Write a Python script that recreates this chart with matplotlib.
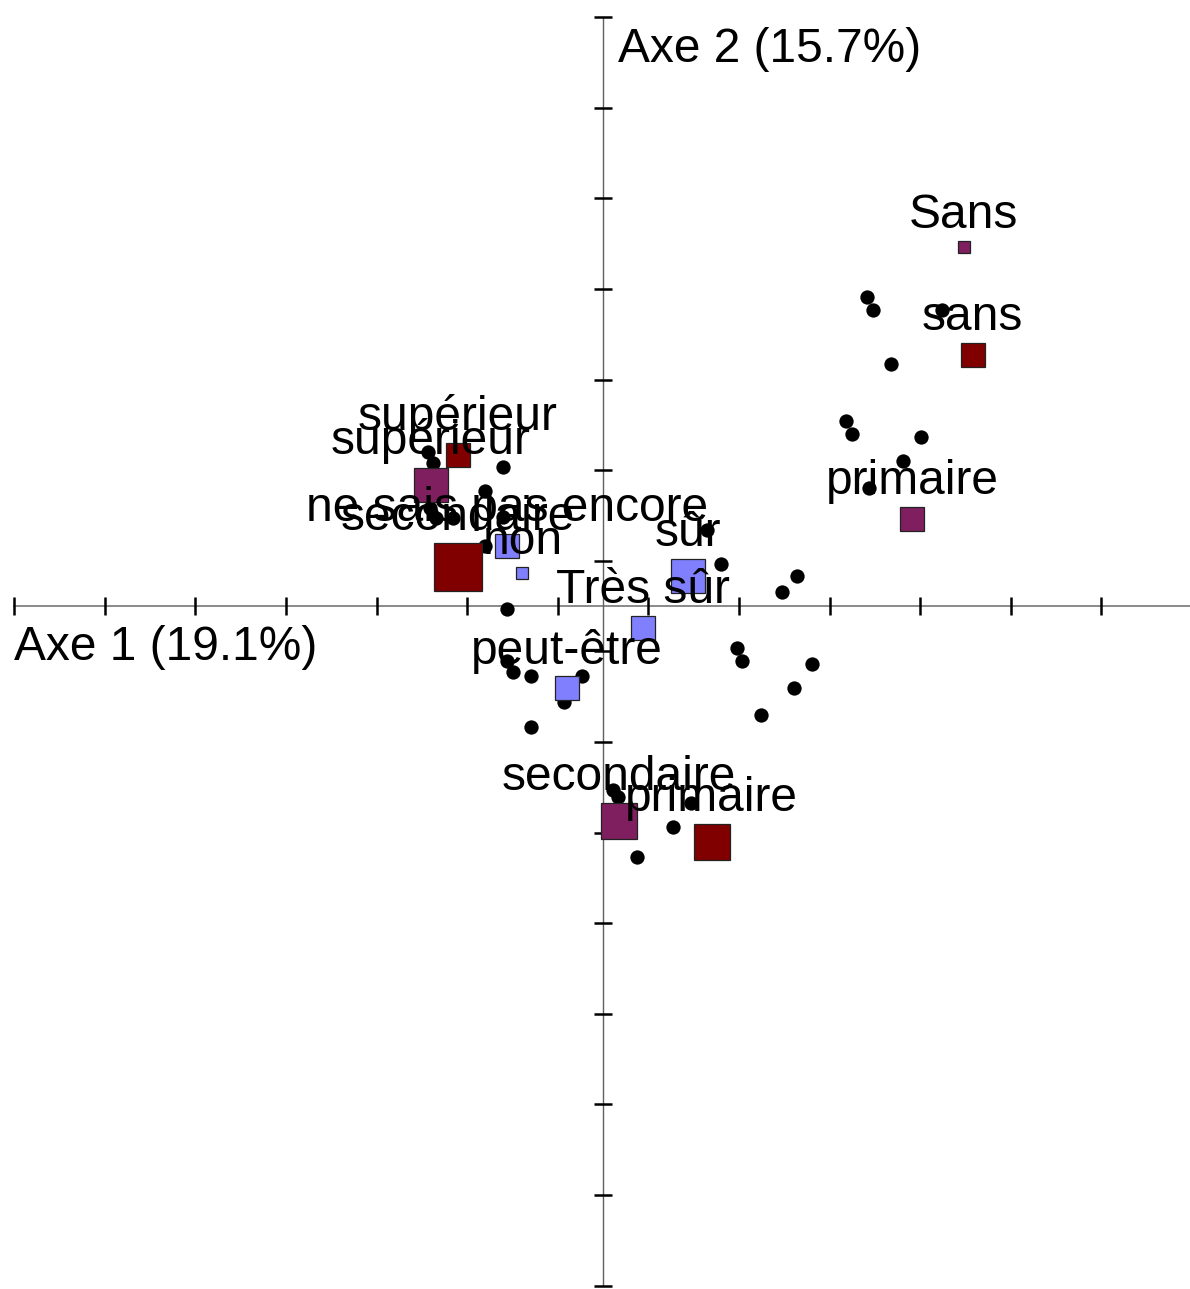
import numpy as np
import matplotlib
matplotlib.use("Agg")
import matplotlib.pyplot as plt

plt.rcParams["font.family"] = ["Liberation Sans", "DejaVu Sans"]

# individus (nuage de points)
ind_x = [0.291, 0.298, 0.318, 0.374, 0.268, 0.275, 0.351, 0.331, 0.294,
         -0.193, -0.188, -0.110, -0.130, -0.191, -0.184, -0.166, -0.110, -0.130,
         0.115, 0.130, 0.214, 0.198, 0.148, 0.153, 0.231, 0.211, 0.174,
         -0.106, -0.106, -0.099, -0.079, -0.023, -0.043, -0.079,
         0.011, 0.017, 0.097, 0.077, 0.038]
ind_y = [0.341, 0.327, 0.267, 0.327, 0.204, 0.190, 0.187, 0.160, 0.130,
         0.170, 0.158, 0.153, 0.127, 0.108, 0.097, 0.097, 0.098, 0.066,
         0.084, 0.046, 0.033, 0.015, -0.046, -0.061, -0.064, -0.091, -0.120,
         -0.003, -0.061, -0.073, -0.077, -0.077, -0.106, -0.134,
         -0.203, -0.211, -0.217, -0.244, -0.277]

# modalites : variable 1 (rouge fonce)
v1_labels = ["supérieur", "secondaire", "sans", "primaire"]
v1_x = [-0.160, -0.160, 0.408, 0.120]
v1_y = [0.167, 0.043, 0.277, -0.260]
v1_poids = [4.0, 16.0, 4.0, 9.0]

# variable 2 (violet)
v2_labels = ["supérieur", "secondaire", "primaire", "Sans"]
v2_x = [-0.190, 0.018, 0.341, 0.398]
v2_y = [0.134, -0.237, 0.096, 0.396]
v2_poids = [8.5, 9.0, 4.0, 1.0]

# variable 3 (bleu)
v3_labels = ["ne sais pas encore", "non", "Très sûr", "peut-être", "sûr"]
v3_x = [-0.106, -0.089, 0.044, -0.040, 0.094]
v3_y = [0.066, 0.036, -0.024, -0.091, 0.033]
v3_poids = [4.0, 1.0, 3.7, 3.7, 8.5]

axe1_label = "Axe 1 (19.1%)"
axe2_label = "Axe 2 (15.7%)"

px = 1 / 906  # one pixel in data units
fig = plt.figure(figsize=(11.9, 12.89), dpi=100)
ax = fig.add_axes([0, 0, 1, 1])
ax.set_xlim(-603 * px, 587 * px)
ax.set_ylim(-683 * px, 606 * px)
ax.axis("off")

#axes lines
ax.plot([-0.65, 0.66], [0, 0], color="#808080", lw=1.3, zorder=1)
ax.plot([0, 0], [-0.75, 0.65], color="#606060", lw=1.0, zorder=1)

#tick marks
xt = -0.65 + 0.1 * np.arange(13)
yt = -0.75 + 0.1 * np.arange(15)
ax.vlines(xt, -9 * px, 9 * px, color="black", lw=1.8, zorder=1)
ax.hlines(yt, -9 * px, 9 * px, color="black", lw=1.8, zorder=1)

ax.text(-0.65, -0.060, axe1_label, fontsize=34.5, ha="left", va="baseline")
ax.text(0.0166, 0.600, axe2_label, fontsize=34.5, ha="left", va="baseline")

#individus
ax.scatter(ind_x, ind_y, s=(10.3) ** 2, color="black", zorder=2, linewidths=0)

groups = [
    (v1_labels, v1_x, v1_y, v1_poids, "#800000"),
    (v2_labels, v2_x, v2_y, v2_poids, "#801F5F"),
    (v3_labels, v3_x, v3_y, v3_poids, "#8080FF"),
]
for labels, xs, ys, poids, col in groups:
    for lab, x, y, p in zip(labels, xs, ys, poids):
        side = 12 * np.sqrt(p)  # pixels
        ax.plot(x, y, marker="s", ms=side * 0.72, mfc=col, mec="#222222",
                mew=0.9, ls="none", zorder=3)
        ax.annotate(lab, (x, y), xytext=(0, side / 2 + 13),
                    textcoords="offset pixels", ha="center", va="baseline",
                    fontsize=34.5, zorder=4)

fig.savefig("out.png", dpi=100)
